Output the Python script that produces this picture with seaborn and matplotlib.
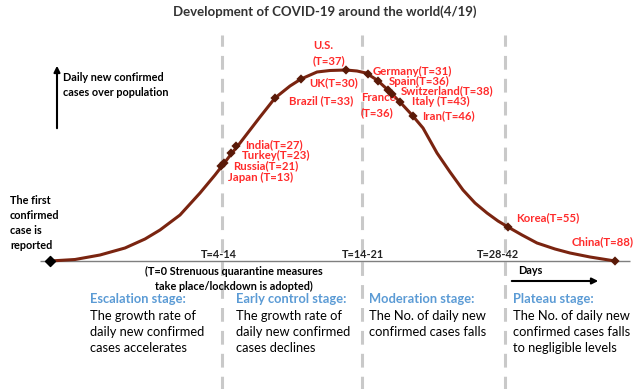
#Importing libraries
import numpy as np
import pandas as pd
import matplotlib
matplotlib.use("Agg")
import matplotlib.pyplot as plt
import seaborn as sns

#Curve of daily new confirmed cases (x = days axis position, level = height above baseline)
curve_x = [50, 75, 100, 125, 145, 160, 180, 200, 215, 222, 232, 240, 250, 260, 275, 290, 301, 317, 330, 346,
           357, 366, 377, 388, 400, 412, 423, 437, 450, 463, 475, 487, 498, 508, 522, 537, 555, 570, 590, 615]
curve_level = [0, 1.5, 6, 13, 22, 31, 46, 68, 86, 95, 108, 118, 131, 144, 163, 175, 182, 189, 190.5, 191,
               190, 188, 181, 171, 159, 146, 133, 108, 89, 71, 58, 48, 40, 34, 26, 18, 12, 8, 4, 0]

#Countries placed on the curve
countries = ["Japan (T=13)", "Russia(T=21)", "Turkey(T=23)", "India(T=27)", "Brazil (T=33)", "UK(T=30)",
             "U.S.\n(T=37)", "Germany(T=31)", "Spain(T=36)", "France\n(T=36)", "Switzerland(T=38)",
             "Italy (T=43)", "Iran(T=46)", "Korea(T=55)", "China(T=88)"]
country_x = [221, 224, 231, 236, 275, 301, 346, 368, 378, 388, 392, 400, 413, 508, 615]
country_level = [95, 98, 108, 115, 163, 182, 191, 187, 180, 171, 167, 159, 145, 34, 0]

#Stage boundaries and stage descriptions
boundary_labels = ["T=4-14", "T=14-21", "T=28-42"]
boundary_x = [222, 362, 505]
stage_titles = ["Escalation stage:", "Early control stage:", "Moderation stage:", "Plateau stage:"]
stage_texts = ["The growth rate of\ndaily new confirmed\ncases accelerates",
               "The growth rate of\ndaily new confirmed\ncases declines",
               "The No. of daily new\nconfirmed cases falls",
               "The No. of daily new\nconfirmed cases falls\nto negligible levels"]

#Layout (label anchor positions, left aligned)
label_pos = {
    "Japan (T=13)": (228, 84), "Russia(T=21)": (233, 95), "Turkey(T=23)": (242, 106), "India(T=27)": (245, 116),
    "Brazil (T=33)": (289, 160), "UK(T=30)": (309, 178), "U.S.\n(T=37)": (313, 208),
    "Germany(T=31)": (373, 190), "Spain(T=36)": (389, 180), "France\n(T=36)": (361, 156),
    "Switzerland(T=38)": (401, 170), "Italy (T=43)": (412, 160), "Iran(T=46)": (422, 145),
    "Korea(T=55)": (516, 43), "China(T=88)": (572, 19),
}
boundary_text_x = [201, 342, 477]
stage_x = [90, 236, 369, 513]

curve = pd.DataFrame({"x": curve_x, "level": curve_level})
points = pd.DataFrame({"country": countries, "x": country_x, "level": country_level})

sns.set_style("white")
plt.rcParams["font.family"] = ["Lato", "DejaVu Sans"]

fig = plt.figure(figsize=(6.4, 3.89), dpi=100)
ax = fig.add_axes([0, 0, 1, 1])
ax.set_xlim(0, 640)
ax.set_ylim(-128, 261)
ax.axis("off")

red = "#FF2B2B"
brown = "#7A2410"
blue = "#5B9BD5"

#Dashed stage boundaries
for bx in boundary_x:
    ax.vlines(bx, -130, 226, colors="#C9C9C9", linewidth=2.2, linestyles=(0, (4.5, 3)), zorder=1)

#Baseline (days axis)
ax.hlines(0, 40, 630, colors="#7F7F7F", linewidth=1, zorder=2)

#Curve and markers
sns.lineplot(data=curve, x="x", y="level", ax=ax, color=brown, linewidth=2.2, sort=False, zorder=3)
sns.scatterplot(data=points, x="x", y="level", ax=ax, color="#5A1A08", marker="D", s=22,
                edgecolor="none", zorder=4, legend=False)
ax.scatter([curve_x[0]], [curve_level[0]], marker="D", s=26, color="black", zorder=5)

for name in countries:
    lx, ly = label_pos[name]
    ax.text(lx, ly, name, color=red, fontsize=8.2, fontweight="bold", ha="left", va="center",
            linespacing=1.5)

#Title
ax.text(325, 249, "Development of COVID-19 around the world(4/19)", ha="center", va="center",
        fontsize=9.5, color="#333333", fontweight="bold")

#Y axis arrow and label
ax.annotate("", xy=(57, 198), xytext=(57, 130),
            arrowprops=dict(arrowstyle="-|>", color="black", lw=1.5, mutation_scale=9))
ax.text(63, 176, "Daily new confirmed\ncases over population", ha="left", va="center",
        fontsize=7.8, fontweight="bold", color="black", linespacing=1.5)

#First case note
ax.text(10, 38, "The first\nconfirmed\ncase is\nreported", ha="left", va="center",
        fontsize=7.8, fontweight="bold", color="black", linespacing=1.45)

#Boundary labels
for lab, tx in zip(boundary_labels, boundary_text_x):
    ax.text(tx, 7, lab, ha="left", va="center", fontsize=7.8, fontweight="bold", color="#222222")

ax.text(234, -18, "(T=0 Strenuous quarantine measures\ntake place/lockdown is adopted)", ha="center",
        va="center", fontsize=7.8, fontweight="bold", color="black", linespacing=1.5)

#Days arrow
ax.text(518, -10, "Days", ha="left", va="center", fontsize=7.8, fontweight="bold", color="black")
ax.annotate("", xy=(601, -20), xytext=(509, -20),
            arrowprops=dict(arrowstyle="-|>", color="black", lw=1.5, mutation_scale=9))

#Stage descriptions
for sx, title, body in zip(stage_x, stage_titles, stage_texts):
    ax.text(sx, -38, title, ha="left", va="center", fontsize=9.3, fontweight="bold", color=blue)
    ax.text(sx, -49, body, ha="left", va="top", fontsize=9.3, color="black", linespacing=1.38)

fig.savefig("out.png", dpi=100)
